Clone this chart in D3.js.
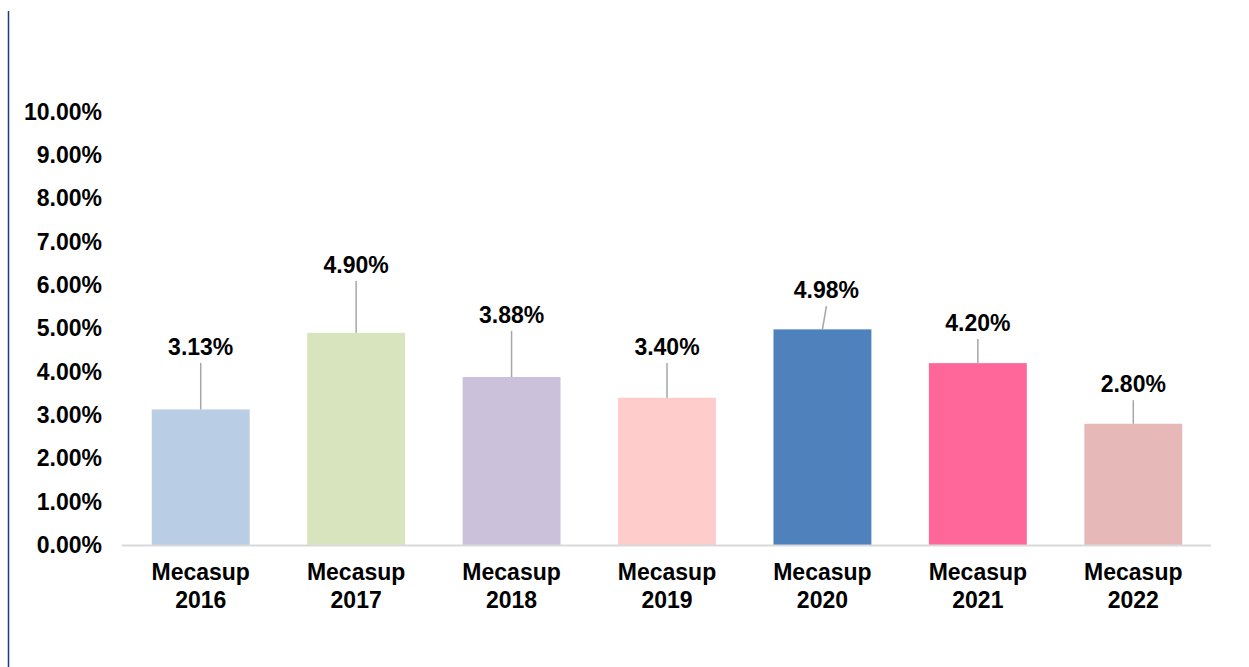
<!DOCTYPE html>
<html>
<head>
<meta charset="utf-8">
<script src="https://cdn.jsdelivr.net/npm/d3@7"></script>
<style>
  html, body { margin: 0; padding: 0; background: #fff; }
  svg { display: block; }
  text { font-family: "Liberation Sans", Arial, sans-serif; font-weight: bold; fill: #000; }
</style>
</head>
<body>
<svg id="chart" width="1249" height="667"></svg>
<script>
const categories = ["Mecasup 2016", "Mecasup 2017", "Mecasup 2018", "Mecasup 2019", "Mecasup 2020", "Mecasup 2021", "Mecasup 2022"];
const values = [3.13, 4.90, 3.88, 3.40, 4.98, 4.20, 2.80];
const barColors = ["#b9cde5", "#d7e4bd", "#ccc1da", "#ffcccc", "#4f81bd", "#ff6699", "#e6b8b7"];
// where each data label sits (in % units of the value axis) and its sideways nudge
const labelLevels = [4.39, 6.28, 5.13, 4.39, 5.70, 4.94, 3.53];
const labelNudge = [0, 0, 0, 0, 4, 0, 0];
const yTicks = [0, 1, 2, 3, 4, 5, 6, 7, 8, 9, 10];

(function draw() {
  const svg = d3.select("#chart");
  const mLeft = 123, mRight = 1211, mTop = 112, mBottom = 545;

  // left border line
  svg.append("line")
    .attr("x1", 8.5).attr("x2", 8.5).attr("y1", 11).attr("y2", 667)
    .attr("stroke", "#1f3a7a").attr("stroke-width", 1.5);

  const x = d3.scaleBand().domain(categories).range([mLeft, mRight]).paddingInner(0.37).paddingOuter(0.185);
  const y = d3.scaleLinear().domain([0, 10]).range([mBottom, mTop]);

  // y axis labels
  const yAxis = d3.axisLeft(y).tickValues(yTicks).tickFormat(d => d3.format(".2f")(d) + "%").tickSize(0).tickPadding(0);
  const yg = svg.append("g").attr("transform", "translate(102,0)").call(yAxis);
  yg.select(".domain").remove();
  yg.selectAll("text").style("font-size", "23px").style("font-family", '"Liberation Sans", Arial, sans-serif').style("font-weight", "bold").attr("fill", "#000");

  // bars
  svg.append("g").selectAll("rect").data(values).join("rect")
    .attr("x", (d, i) => x(categories[i]))
    .attr("width", x.bandwidth())
    .attr("y", d => y(d))
    .attr("height", d => y(0) - y(d))
    .attr("fill", (d, i) => barColors[i]);

  // baseline
  svg.append("line")
    .attr("x1", mLeft - 1).attr("x2", mRight).attr("y1", y(0) + 0.5).attr("y2", y(0) + 0.5)
    .attr("stroke", "#d9d9d9").attr("stroke-width", 2);

  // x axis labels
  const xAxis = d3.axisBottom(x).tickSize(0).tickFormat("");
  const xg = svg.append("g").attr("transform", `translate(0,${y(0)})`).call(xAxis);
  xg.select(".domain").remove();
  xg.selectAll(".tick").each(function(d) {
    const parts = d.split(" ");
    const t = d3.select(this).append("text")
      .attr("text-anchor", "middle")
      .style("font-size", "23px");
    t.append("tspan").attr("x", 0).attr("y", 35).text(parts[0]);
    t.append("tspan").attr("x", 0).attr("y", 63).text(parts[1]);
  });

  // leader lines
  svg.append("g").selectAll("line").data(values).join("line")
    .attr("x1", (d, i) => x(categories[i]) + x.bandwidth() / 2 + labelNudge[i])
    .attr("y1", (d, i) => y(labelLevels[i]) + 8)
    .attr("x2", (d, i) => x(categories[i]) + x.bandwidth() / 2)
    .attr("y2", d => y(d))
    .attr("stroke", "#a6a6a6").attr("stroke-width", 1.5);

  // data labels
  svg.append("g").selectAll("text").data(values).join("text")
    .attr("x", (d, i) => x(categories[i]) + x.bandwidth() / 2 + labelNudge[i])
    .attr("y", (d, i) => y(labelLevels[i]))
    .attr("text-anchor", "middle")
    .style("font-size", "23px")
    .text(d => d3.format(".2f")(d) + "%");
})();
</script>
</body>
</html>
